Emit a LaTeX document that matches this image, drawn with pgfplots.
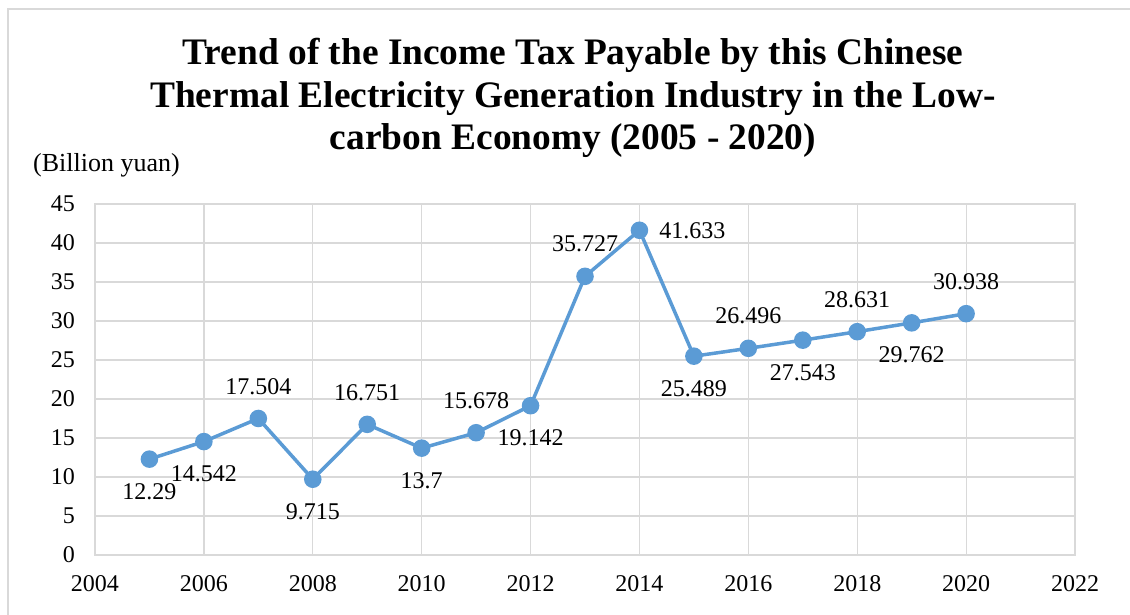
\documentclass[border=0pt]{standalone}
\usepackage{pgfplots}
\pgfplotsset{compat=1.18}
\usepackage{fontspec}
\setmainfont{Liberation Serif}

\definecolor{lineblue}{HTML}{5B9BD5}
\definecolor{gridgray}{HTML}{D9D9D9}

\newcommand{\lblfont}{\fontsize{24}{28}\selectfont}

\begin{document}
\begin{tikzpicture}
\begin{axis}[
  scale only axis,
  width=980pt, height=351pt,
  xmin=2004, xmax=2022, ymin=0, ymax=45,
  xtick={2004,2006,...,2022},
  ytick={0,5,...,45},
  grid=major,
  major grid style={gridgray, line width=1.3pt},
  axis line style={gridgray, line width=1.3pt},
  major tick length=0pt,
  tick label style={font=\lblfont, inner sep=0pt, text=black},
  xticklabel style={anchor=north, yshift=-20pt},
  yticklabel style={anchor=east, xshift=-20pt},
  /pgf/number format/1000 sep={},
  /pgf/number format/assume math mode=true,
  clip=false,
]
% income tax payable (billion yuan), with the side each value label sits on
\addplot[
  color=lineblue, line width=3.5pt,
  mark=*, mark size=7pt, mark options={solid, fill=lineblue, draw=none},
  point meta=explicit symbolic,
  visualization depends on={value \thisrow{anc}\as\myanc},
  nodes near coords,
  every node near coord/.append style={font=\lblfont, text=black, inner sep=0pt,
    outer xsep=20pt, outer ysep=24pt, anchor=\myanc},
] table[x=year, y=value, meta=value] {
year value anc
2005 12.29  north
2006 14.542 north
2007 17.504 south
2008 9.715  north
2009 16.751 south
2010 13.7   north
2011 15.678 south
2012 19.142 north
2013 35.727 south
2014 41.633 west
2015 25.489 north
2016 26.496 south
2017 27.543 north
2018 28.631 south
2019 29.762 north
2020 30.938 south
};
\end{axis}

% chart title
\begin{scope}[every node/.style={font=\bfseries\fontsize{37.4}{44}\selectfont, anchor=base, inner sep=0pt}]
  \node at (478pt,490pt) {Trend of the Income Tax Payable by this Chinese};
  \node at (478pt,447pt) {Thermal Electricity Generation Industry in the Low-};
  \node at (478pt,405pt) {carbon Economy (2005 - 2020)};
\end{scope}

% unit label
\node[font=\fontsize{26}{30}\selectfont, anchor=base west, inner sep=0pt] at (-62pt,383pt) {(Billion yuan)};

% chart frame
\draw[gridgray, line width=1.5pt] (-87pt,-70pt) -- (-87pt,546pt) -- (1045pt,546pt);

\pgfresetboundingbox
\path[use as bounding box] (-95pt,-59pt) rectangle (1035pt,555pt);
\end{tikzpicture}
\end{document}
